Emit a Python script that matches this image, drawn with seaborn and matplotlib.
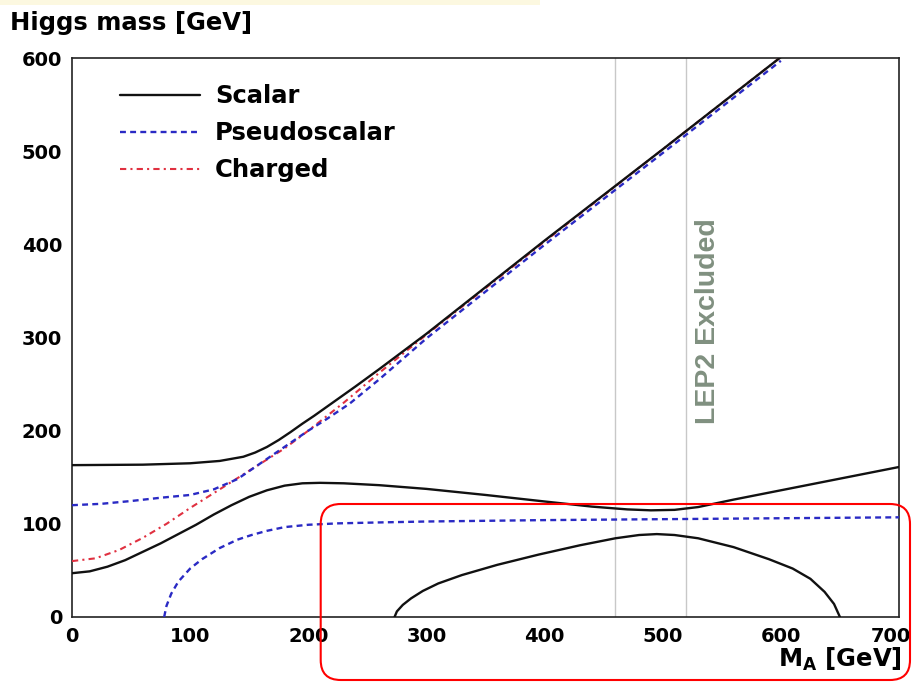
import matplotlib
matplotlib.use("Agg")
import matplotlib.pyplot as plt
from matplotlib.ticker import MultipleLocator
from matplotlib.patches import FancyBboxPatch, Rectangle
import matplotlib.transforms as mtransforms
import seaborn as sns

# ---- Higgs masses versus M_A (GeV) ----
# heavy scalar branch
heavy_scalar_ma = [0, 60, 100, 125, 145, 155, 165, 175, 185, 195, 205, 220, 240, 260, 300, 400, 500, 600]
heavy_scalar_m = [163, 163.5, 165, 167.5, 172, 176.5, 182.5, 190, 198.5, 207.5, 216, 229.5, 247.5, 266, 304, 404, 502, 601]

# middle scalar branch
mid_scalar_ma = [0, 15, 30, 45, 60, 75, 90, 105, 120, 135, 150, 165, 180, 195, 210, 230, 260, 300,
                 350, 400, 440, 470, 490, 510, 530, 560, 600, 650, 700]
mid_scalar_m = [47, 49, 54, 61, 70, 79, 89, 99, 110, 120, 129, 136, 141, 143.5, 144, 143.5, 141.5, 137.5,
                131, 124, 118.5, 115.5, 114.5, 115, 118, 126, 136, 148.5, 161]

# light scalar branch
light_scalar_ma = [273, 275, 280, 287, 297, 310, 330, 360, 395, 430, 460, 480, 495, 510, 530, 560,
                   590, 610, 625, 637, 645, 650]
light_scalar_m = [0, 6, 13, 20, 28, 36, 45, 56, 67, 77, 84.5, 88, 89, 88, 84.5, 75,
                  62, 52, 41, 27, 14, 0]

# heavy pseudoscalar branch
heavy_pseudo_ma = [0, 25, 50, 75, 100, 120, 140, 155, 170, 185, 200, 215, 235, 260, 300, 400, 500, 600]
heavy_pseudo_m = [120, 121.5, 124.5, 128, 131, 137, 148, 161, 174, 187, 200, 212, 229, 255, 299, 399.5, 498, 597]

# light pseudoscalar branch
light_pseudo_ma = [78, 80, 84, 90, 100, 110, 125, 140, 152, 165, 180, 200, 225, 260, 300, 400, 500, 600, 700]
light_pseudo_m = [0, 12, 25, 38, 52, 62, 74, 83, 88, 92.5, 96.5, 99, 100.5, 101.5, 102.5, 104, 105, 106, 107]

# charged Higgs
charged_ma = [0, 20, 40, 60, 80, 100, 120, 140, 160, 180, 200, 230, 260, 300, 400, 500, 600]
charged_m = [60, 63, 72, 85, 100, 117, 133, 149, 165, 181, 200, 230, 262, 303, 403, 502, 601]

# LEP2 exclusion boundaries
lep2_lines = [460, 520]

x_ticks = [0, 100, 200, 300, 400, 500, 600, 700]
y_ticks = [0, 100, 200, 300, 400, 500, 600]

sns.set_theme(style="white")
plt.rcParams["font.family"] = ["DejaVu Sans"]
plt.rcParams["font.weight"] = "bold"
plt.rcParams["mathtext.fontset"] = "dejavusans"
plt.rcParams["text.color"] = "black"
plt.rcParams["xtick.color"] = "black"
plt.rcParams["ytick.color"] = "black"

W, H = 915, 682
fig = plt.figure(figsize=(W / 100, H / 100), dpi=100, facecolor="white")
ax = fig.add_axes([72 / W, 1 - 617 / H, (899 - 72) / W, (617 - 58) / H])
ax.set_facecolor("white")

for xv in lep2_lines:
    ax.axvline(xv, color="#c8c8c8", lw=1.0, zorder=1)

black = "#111111"
blue = "#2a2ac4"
red = "#e03040"
lw = 1.7

sns.lineplot(x=charged_ma, y=charged_m, ax=ax, color=red, lw=1.5, estimator=None, sort=False,
             linestyle=(0, (3, 2, 1, 2)), label="Charged", zorder=3)
sns.lineplot(x=heavy_pseudo_ma, y=heavy_pseudo_m, ax=ax, color=blue, lw=lw, estimator=None, sort=False,
             linestyle=(0, (2.5, 1.8)), label="Pseudoscalar", zorder=4)
sns.lineplot(x=light_pseudo_ma, y=light_pseudo_m, ax=ax, color=blue, lw=lw, estimator=None, sort=False,
             linestyle=(0, (2.5, 1.8)), legend=False, zorder=4)
sns.lineplot(x=heavy_scalar_ma, y=heavy_scalar_m, ax=ax, color=black, lw=lw, estimator=None, sort=False,
             label="Scalar", zorder=5)
sns.lineplot(x=mid_scalar_ma, y=mid_scalar_m, ax=ax, color=black, lw=lw, estimator=None, sort=False,
             legend=False, zorder=5)
sns.lineplot(x=light_scalar_ma, y=light_scalar_m, ax=ax, color=black, lw=lw, estimator=None, sort=False,
             legend=False, zorder=5)

ax.set_xlim(0, 700)
ax.set_ylim(0, 600)
ax.set_xticks(x_ticks)
ax.set_yticks(y_ticks)
ax.xaxis.set_minor_locator(MultipleLocator(20))
ax.yaxis.set_minor_locator(MultipleLocator(20))
ax.set_xlabel("")
ax.set_ylabel("")
ax.tick_params(axis="x", which="major", direction="in", length=12, width=1.0, labelsize=14, pad=7,
               color="#222222", labelcolor="black")
ax.tick_params(axis="x", which="minor", direction="in", length=5, width=1.0, color="#222222")
ax.tick_params(axis="y", which="major", direction="in", length=18.5, width=1.0, labelsize=14, pad=7,
               color="#222222", labelcolor="black")
ax.tick_params(axis="y", which="minor", direction="in", length=9, width=1.0, color="#222222")
for lab in ax.get_xticklabels() + ax.get_yticklabels():
    lab.set_fontweight("bold")
# keep the last x label inside the frame edge
last = ax.get_xticklabels()[-1]
last.set_transform(last.get_transform() + mtransforms.ScaledTranslation(-8 / 100, 0, fig.dpi_scale_trans))
for sp in ax.spines.values():
    sp.set_visible(True)
    sp.set_color("#222222")
    sp.set_linewidth(1.2)

handles, labels = ax.get_legend_handles_labels()
order = [labels.index(n) for n in ["Scalar", "Pseudoscalar", "Charged"]]
leg = ax.legend([handles[i] for i in order], [labels[i] for i in order],
                loc="upper left", bbox_to_anchor=(0.058, 0.953), frameon=False,
                fontsize=17.5, handlelength=3.3, handletextpad=0.6, labelspacing=0.53,
                borderpad=0, borderaxespad=0)
for t in leg.get_texts():
    t.set_fontweight("bold")
    t.set_color("black")

ax.text(538, 318, "LEP2 Excluded", rotation=90, ha="center", va="center",
        color="#809080", fontsize=20.5, fontweight="bold", family="Liberation Sans", zorder=6)

fig.text(10 / W, 1 - 23 / H, "Higgs mass [GeV]", ha="left", va="center",
         fontsize=17.5, fontweight="bold", color="black")
fig.text(902 / W, 1 - 667 / H, r"$\mathbf{M}_\mathbf{A}$ [GeV]", ha="right", va="baseline",
         fontsize=17.5, fontweight="bold", color="black")

# pale band along the top edge
fig.add_artist(Rectangle((0, 1 - 5 / H), 540 / W, 5 / H, transform=fig.transFigure,
                         facecolor="#fcf8e0", edgecolor="none", zorder=0))

# highlighted region
fig.add_artist(FancyBboxPatch((320.7 / 100, 2 / 100), (910 - 320.7) / 100, (680 - 504) / 100,
                              boxstyle="round,pad=0,rounding_size=0.2",
                              transform=fig.dpi_scale_trans, fill=False,
                              edgecolor="#ff0000", lw=1.5, zorder=10))

fig.savefig("out.png", dpi=100, facecolor="white")
